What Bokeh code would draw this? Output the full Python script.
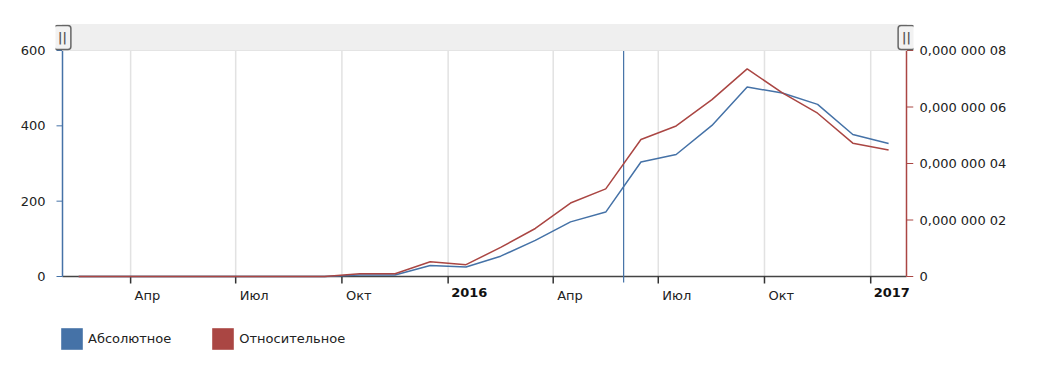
import math
import pandas as pd
from bokeh.plotting import figure
from bokeh.models import (Range1d, LinearAxis, FixedTicker, Legend, LegendItem,
                          BoxAnnotation, Label)
from bokeh.core.properties import value
from bokeh.embed import file_html
from bokeh.resources import INLINE

# ---------------- data ----------------
months = ["2015-02", "2015-03", "2015-04", "2015-05", "2015-06", "2015-07",
          "2015-08", "2015-09", "2015-10", "2015-11", "2015-12", "2016-01",
          "2016-02", "2016-03", "2016-04", "2016-05", "2016-06", "2016-07",
          "2016-08", "2016-09", "2016-10", "2016-11", "2016-12", "2017-01"]
absolute = [0, 0, 0, 0, 0, 0, 0, 0, 4, 4, 29, 25,
            54, 96, 145, 171, 304, 324, 401, 503, 487, 457, 377, 353]
relative = [0, 0, 0, 0, 0, 0, 0, 0, 0.1e-8, 0.1e-8, 0.52e-8, 0.42e-8,
            1.03e-8, 1.70e-8, 2.60e-8, 3.10e-8, 4.85e-8, 5.33e-8,
            6.26e-8, 7.35e-8, 6.50e-8, 5.78e-8, 4.72e-8, 4.48e-8]
x_start, x_end = "2015-02-01", "2017-02-01"
cursor_date = "2016-06-01"
month_tick_dates = ["2015-04-01", "2015-07-01", "2015-10-01",
                    "2016-04-01", "2016-07-01", "2016-10-01"]
month_tick_labels = ["Апр", "Июл", "Окт", "Апр", "Июл", "Окт"]
year_tick_dates = ["2016-01-01", "2017-01-01"]
year_tick_labels = ["2016", "2017"]
abs_ticks = [0, 200, 400, 600]
rel_ticks = [0, 2e-8, 4e-8, 6e-8, 8e-8]
rel_labels = ["0", "0,000 000 02", "0,000 000 04", "0,000 000 06", "0,000 000 08"]
series_names = ["Абсолютное", "Относительное"]

BLUE = "#4572A7"
RED = "#AA4643"
FONT = "DejaVu Sans"
TXT = "#222222"


def ms(d):
    return pd.Timestamp(d).value // 10**6


starts = pd.to_datetime([m + "-01" for m in months])
mids = starts + ((starts + pd.offsets.MonthBegin(1)) - starts) / 2

# ---------------- layout geometry (pixels) ----------------
LEFT, TOP = 55, 24           # frame origin in the page
DATA_W = 844                 # width of the data span
PAD_X = 7                    # frame extends beyond data span (for grips)
BAND_H = 26                  # scrollbar band height
PLOT_H = 226                 # 0..max height
BELOW_H = 79                 # space under the zero line (labels + legend)
FRAME_W = DATA_W + 2 * PAD_X
FRAME_H = BAND_H + PLOT_H + BELOW_H

ABS_MAX = abs_ticks[-1]
REL_MAX = rel_ticks[-1]
x0, x1 = ms(x_start), ms(x_end)
px_ms = (x1 - x0) / DATA_W
y_per_px = ABS_MAX / PLOT_H
r_per_px = REL_MAX / PLOT_H

p = figure(frame_width=FRAME_W, frame_height=FRAME_H,
           x_range=Range1d(x0 - PAD_X * px_ms, x1 + PAD_X * px_ms),
           y_range=Range1d(-BELOW_H * y_per_px, (PLOT_H + BAND_H) * y_per_px),
           output_backend="svg", toolbar_location=None,
           min_border_left=LEFT, min_border_right=112, min_border_top=TOP,
           min_border_bottom=0)
p.extra_y_ranges = {"rel": Range1d(-BELOW_H * r_per_px, (PLOT_H + BAND_H) * r_per_px)}
p.outline_line_color = None
p.background_fill_color = "white"
p.border_fill_color = "white"
p.xgrid.visible = False
p.ygrid.visible = False
p.xaxis.visible = False

# left axis (labels only; line/ticks drawn below)
ya = p.yaxis[0]
ya.ticker = FixedTicker(ticks=abs_ticks)
ya.axis_line_color = None
ya.major_tick_line_color = None
ya.minor_tick_line_color = None
ya.major_tick_out = 0
ya.major_tick_in = 0
ya.major_label_standoff = 10
ya.major_label_text_font = FONT
ya.major_label_text_font_size = "13px"
ya.major_label_text_color = TXT

ra = LinearAxis(y_range_name="rel", ticker=FixedTicker(ticks=rel_ticks),
                major_label_overrides={t: l for t, l in zip(rel_ticks, rel_labels)})
ra.axis_line_color = None
ra.major_tick_line_color = None
ra.minor_tick_line_color = None
ra.major_tick_out = 0
ra.major_tick_in = 0
ra.major_label_standoff = 6
ra.major_label_text_font = FONT
ra.major_label_text_font_size = "13px"
ra.major_label_text_color = TXT
p.add_layout(ra, "right")

all_tick_ms = [ms(d) for d in month_tick_dates + year_tick_dates]

# vertical grid lines
p.segment(x0=all_tick_ms, y0=[0] * len(all_tick_ms), x1=all_tick_ms,
          y1=[ABS_MAX] * len(all_tick_ms), line_color="#e2e2e2", line_width=1.5)

# axis lines
p.segment(x0=[x0], y0=[0], x1=[x1], y1=[0], line_color="#444444", line_width=1.5)
p.segment(x0=[x0], y0=[0], x1=[x0], y1=[ABS_MAX], line_color=BLUE, line_width=1.5)
p.segment(x0=[x1], y0=[0], x1=[x1], y1=[REL_MAX], line_color=RED, line_width=1.5,
          y_range_name="rel")

# tick marks
p.ray(x=all_tick_ms, y=[0] * len(all_tick_ms), length=7, length_units="screen",
      angle=-math.pi / 2, line_color="#333333", line_width=1.5)
p.ray(x=[x0] * len(abs_ticks), y=abs_ticks, length=6, length_units="screen",
      angle=math.pi, line_color=BLUE, line_width=1)
p.ray(x=[x1] * len(rel_ticks), y=rel_ticks, length=7, length_units="screen",
      angle=0, line_color=RED, line_width=1, y_range_name="rel")

# x tick labels (placed just right of their tick)
p.text(x=[ms(d) for d in month_tick_dates], y=[0] * len(month_tick_dates),
       text=month_tick_labels, x_offset=4, y_offset=11, text_align="left",
       text_baseline="top", text_font=value(FONT), text_font_size=value("13px"),
       text_color=TXT)
p.text(x=[ms(d) for d in year_tick_dates], y=[0] * len(year_tick_dates),
       text=year_tick_labels, x_offset=3, y_offset=11, text_align="left",
       text_baseline="top", text_font=value(FONT), text_font_size=value("13px"),
       text_font_style="bold", text_color="#111111")

# cursor line (extends slightly below the axis)
p.ray(x=[ms(cursor_date)], y=[ABS_MAX], length=PLOT_H + 6, length_units="screen",
      angle=-math.pi / 2, line_color=BLUE, line_width=1.2)

# data lines
p.line(mids, absolute, line_color=BLUE, line_width=1.5)
p.line(mids, relative, line_color=RED, line_width=1.5, y_range_name="rel")

# scrollbar band with grips
p.add_layout(BoxAnnotation(left=x0, right=x1, bottom=ABS_MAX, fill_color="#efefef",
                           fill_alpha=1, line_color="#e4e4e4", line_alpha=1))
grip_y = ABS_MAX + BAND_H * y_per_px / 2
for gx in (x0, x1):
    p.add_layout(Label(x=gx, y=grip_y, text="||", text_align="center",
                       text_baseline="middle", text_font=FONT,
                       text_font_size="12px", text_font_style="bold",
                       text_color="#555555", background_fill_color="#f2f2f2",
                       border_line_color="#666666", border_line_width=1.5,
                       border_radius=3,
                       padding=dict(left=4, right=4, top=5, bottom=5)))

# legend (square swatches; the swatch renderers are hidden in the plot)
r1 = p.vbar(x=mids, top=absolute, width=1, fill_color=BLUE, line_color=None,
            visible=False)
r2 = p.vbar(x=mids, top=relative, width=1, fill_color=RED, line_color=None,
            visible=False, y_range_name="rel")
legend = Legend(items=[LegendItem(label=series_names[0], renderers=[r1]),
                       LegendItem(label=series_names[1], renderers=[r2])],
                orientation="horizontal", location=(3, 3), margin=0, padding=0,
                spacing=38, glyph_width=27, glyph_height=27, label_standoff=3,
                label_text_font=FONT, label_text_font_size="13px",
                label_text_color=TXT, border_line_color=None,
                background_fill_alpha=0, inactive_fill_alpha=0,
                click_policy="none")
p.add_layout(legend, "center")

open("out.html", "w").write(file_html(p, INLINE))
